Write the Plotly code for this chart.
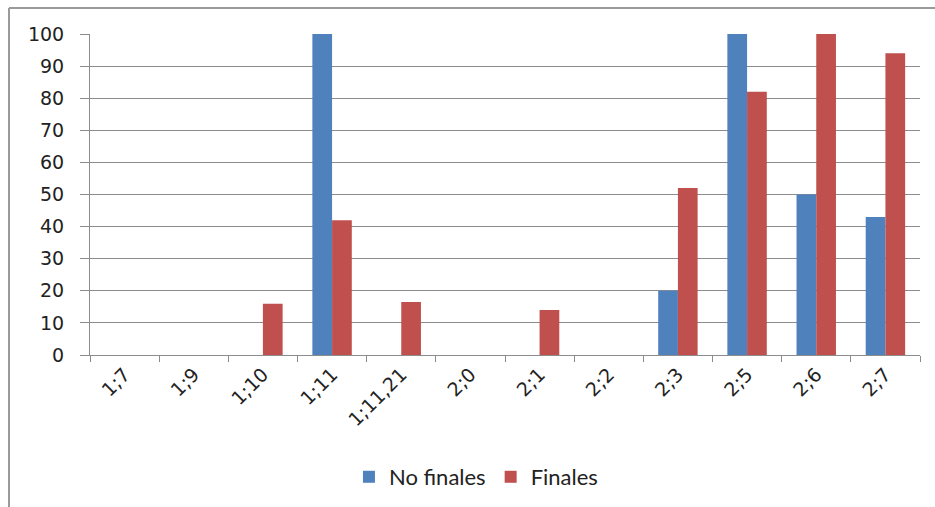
import plotly.graph_objects as go

categories = ["1;7", "1;9", "1;10", "1;11", "1;11,21", "2;0", "2;1", "2;2", "2;3", "2;5", "2;6", "2;7"]
no_finales = [0, 0, 0, 100, 0, 0, 0, 0, 20, 100, 50, 43]
finales = [0, 0, 16, 42, 16.5, 0, 14, 0, 52, 82, 100, 94]

W, H = 935, 507
ml, mr, mt, mb = 90, 15, 34, 152
pw, ph = W - ml - mr, H - mt - mb

fig = go.Figure()
fig.add_trace(go.Bar(name="No finales", x=categories, y=no_finales, marker_color="#4F81BD",
                     marker_line_width=0))
fig.add_trace(go.Bar(name="Finales", x=categories, y=finales, marker_color="#C0504D",
                     marker_line_width=0))

font = "DejaVu Sans"
fig.update_layout(
    width=W, height=H,
    margin=dict(l=ml, r=mr, t=mt, b=mb, autoexpand=False),
    paper_bgcolor="white", plot_bgcolor="white",
    barmode="group", bargap=0.43, bargroupgap=0,
    font=dict(family=font, size=19, color="#222"),
    showlegend=True,
    legend=dict(orientation="h", x=0.465, xanchor="center", y=-0.38, yanchor="middle",
                font=dict(family="Lato", size=22, color="#222"),
                itemwidth=30, traceorder="normal"),
    xaxis=dict(type="category", tickangle=-45, showgrid=False, showline=True,
               linecolor="#8c8c8c", linewidth=1, ticks="outside", ticklen=6,
               tickcolor="#8c8c8c", tickson="boundaries", automargin=False,
               tickfont=dict(family=font, size=19, color="#222")),
    yaxis=dict(range=[0, 100], dtick=10, showgrid=True, gridcolor="#8c8c8c", gridwidth=1,
               showline=True, linecolor="#8c8c8c", ticks="outside", ticklen=9,
               tickcolor="#8c8c8c", zeroline=False, ticklabelstandoff=12, automargin=False,
               tickfont=dict(family=font, size=19, color="#222")),
    shapes=[
        dict(type="line", xref="paper", yref="paper",
             x0=(9 - ml) / pw, x1=(W - ml) / pw, y0=1 + (mt - 8) / ph, y1=1 + (mt - 8) / ph,
             line=dict(color="#9a9a9a", width=2)),
        dict(type="line", xref="paper", yref="paper",
             x0=(9 - ml) / pw, x1=(9 - ml) / pw, y0=1 + (mt - 8) / ph, y1=-(mb) / ph,
             line=dict(color="#9a9a9a", width=2)),
    ],
)

fig.write_html("out.html")
